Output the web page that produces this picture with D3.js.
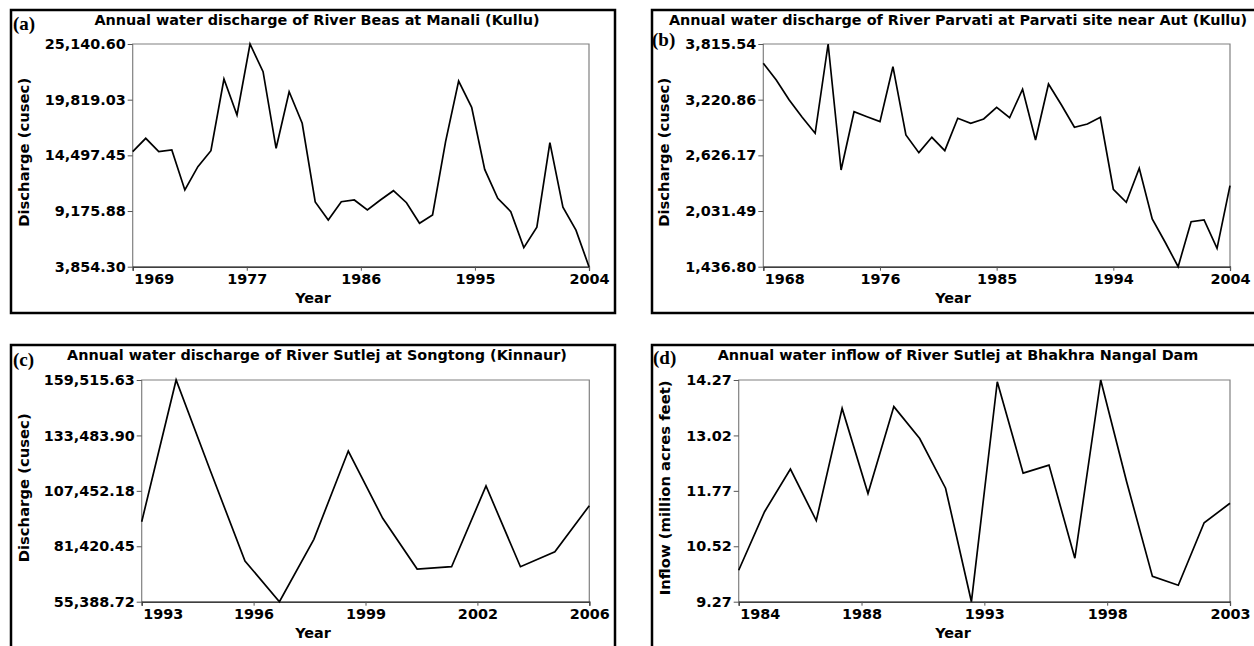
<!DOCTYPE html>
<html>
<head>
<meta charset="utf-8">
<script src="https://cdn.jsdelivr.net/npm/d3@7/dist/d3.min.js"></script>
<style>
  body { margin: 0; background: #fff; }
  svg { display: block; }
</style>
</head>
<body>
<script>
const width = 1254;
const height = 646;
const font = '"DejaVu Sans", sans-serif';

// (a) Beas at Manali
const beasYears = d3.range(1969, 2005);
const beasDischarge = [14846, 16127, 14846, 15009, 11186, 13413, 14942, 21795, 18354, 25140.60,
   22493, 15171, 20581, 17561, 10039, 8318, 10068, 10230, 9274, 10230,
   11119, 9972, 8001, 8796, 15803, 21604, 19090, 13158, 10398, 9117,
   5676, 7635, 15707, 9547, 7348, 3854.30];
const beasYTicks = [3854.30, 9175.88, 14497.45, 19819.03, 25140.60];
const beasXLabels = ['1969', '1977', '1986', '1995', '2004'];

// (b) Parvati near Aut
const parvatiYears = d3.range(1968, 2005);
const parvatiDischarge = [3609, 3431, 3217, 3033, 2862, 3815.54, 2470, 3092, 3039, 2986,
   3573, 2844, 2655, 2819, 2676, 3022, 2969, 3015, 3139, 3028,
   3332, 2790, 3388, 3164, 2926, 2961, 3033, 2264, 2125, 2488,
   1946, 1698, 1436.80, 1918, 1936, 1633, 2302];
const parvatiYTicks = [1436.80, 2031.49, 2626.17, 3220.86, 3815.54];
const parvatiXLabels = ['1968', '1976', '1985', '1994', '2004'];

// (c) Sutlej at Songtong
const songtongYears = d3.range(1993, 2007);
const songtongDischarge = [92960, 159515.63, 116630, 74498, 55388.72, 84692, 126167, 94556,
   70742, 71821, 109728, 71821, 78870, 100475];
const songtongYTicks = [55388.72, 81420.45, 107452.18, 133483.90, 159515.63];
const songtongXLabels = ['1993', '1996', '1999', '2002', '2006'];

// (d) Sutlej at Bhakhra Nangal Dam
const bhakraYears = d3.range(1984, 2004);
const bhakraInflow = [9.98, 11.30, 12.26, 11.10, 13.63, 11.71, 13.67, 12.95, 11.83, 9.27,
   14.23, 12.17, 12.35, 10.25, 14.27, 11.98, 9.84, 9.64, 11.05, 11.49];
const bhakraYTicks = [9.27, 10.52, 11.77, 13.02, 14.27];
const bhakraXLabels = ['1984', '1988', '1993', '1998', '2003'];

const panels = [
   {
      tag: '(a)', title: 'Annual water discharge of River Beas at Manali (Kullu)',
      yLabel: 'Discharge (cusec)', years: beasYears, values: beasDischarge,
      yTicks: beasYTicks, xLabels: beasXLabels, fmt: d3.format(',.2f'),
      box: { x: 11, y: 10, w: 604, h: 303 },
      plot: { left: 132.7, right: 589, top: 44, bottom: 266.7 },
      tagPos: [13, 30], titleX: 317, yLabelX: 24, yearX: 313
   },
   {
      tag: '(b)', title: 'Annual water discharge of River Parvati at Parvati site near Aut (Kullu)',
      yLabel: 'Discharge (cusec)', years: parvatiYears, values: parvatiDischarge,
      yTicks: parvatiYTicks, xLabels: parvatiXLabels, fmt: d3.format(',.2f'),
      box: { x: 652, y: 10, w: 612, h: 303 },
      plot: { left: 763.3, right: 1230, top: 44, bottom: 266.7 },
      tagPos: [652, 46], titleX: 958, yLabelX: 664, yearX: 953
   },
   {
      tag: '(c)', title: 'Annual water discharge of River Sutlej at Songtong (Kinnaur)',
      yLabel: 'Discharge (cusec)', years: songtongYears, values: songtongDischarge,
      yTicks: songtongYTicks, xLabels: songtongXLabels, fmt: d3.format(',.2f'),
      box: { x: 11, y: 345, w: 604, h: 310 },
      plot: { left: 141.7, right: 589.3, top: 380, bottom: 601.7 },
      tagPos: [13, 366], titleX: 317, yLabelX: 24, yearX: 313
   },
   {
      tag: '(d)', title: 'Annual water inflow of River Sutlej at Bhakhra Nangal Dam',
      yLabel: 'Inflow (million acres feet)', years: bhakraYears, values: bhakraInflow,
      yTicks: bhakraYTicks, xLabels: bhakraXLabels, fmt: d3.format('.2f'),
      box: { x: 652, y: 345, w: 612, h: 310 },
      plot: { left: 738.7, right: 1230, top: 380, bottom: 601.7 },
      tagPos: [653, 364], titleX: 958, yLabelX: 665, yearX: 953
   }
];

const svg = d3.select('body')
   .append('svg')
   .attr('width', width)
   .attr('height', height)
   .style('background', '#fff');

function drawPanel(p) {
   const g = svg.append('g');

   // cadre extérieur
   g.append('rect')
      .attr('x', p.box.x)
      .attr('y', p.box.y)
      .attr('width', p.box.w)
      .attr('height', p.box.h)
      .attr('fill', 'none')
      .attr('stroke', '#000')
      .attr('stroke-width', 2.5);

   const x = d3.scaleLinear()
      .domain(d3.extent(p.years))
      .range([p.plot.left, p.plot.right]);

   const y = d3.scaleLinear()
      .domain(d3.extent(p.yTicks))
      .range([p.plot.bottom, p.plot.top]);

   // cadre de la zone de tracé (gris)
   g.append('path')
      .attr('d', `M${p.plot.left},${p.plot.bottom}V${p.plot.top}H${p.plot.right}V${p.plot.bottom}`)
      .attr('fill', 'none')
      .attr('stroke', '#808080')
      .attr('stroke-width', 1.2);

   // axe vertical
   g.append('g')
      .attr('transform', `translate(${p.plot.left},0)`)
      .call(d3.axisLeft(y).tickValues(p.yTicks).tickFormat(p.fmt).tickSize(5).tickPadding(2))
      .call(g => g.select('.domain').remove())
      .call(g => g.selectAll('line').attr('stroke', '#555'))
      .call(g => g.selectAll('text')
         .attr('fill', '#000')
         .style('font', `bold 14.4px ${font}`));

   // axe horizontal : graduations aux quartiles
   const [x0, x1] = x.domain();
   const xTicks = [0, 0.25, 0.5, 0.75, 1].map(t => x0 + t * (x1 - x0));
   g.append('g')
      .attr('transform', `translate(0,${p.plot.bottom})`)
      .call(d3.axisBottom(x).tickValues(xTicks).tickFormat((d, i) => p.xLabels[i]).tickSize(4).tickPadding(3))
      .call(g => g.select('.domain')
         .attr('stroke', '#000')
         .attr('stroke-width', 1.2))
      .call(g => g.selectAll('line').attr('stroke', '#555'))
      .call(g => g.selectAll('text')
         .attr('fill', '#000')
         .style('font', `bold 14.4px ${font}`))
      .call(g => g.select('.tick text').attr('text-anchor', 'start').attr('dx', 1));

   // courbe
   const line = d3.line()
      .x((d, i) => x(p.years[i]))
      .y(d => y(d));

   g.append('path')
      .datum(p.values)
      .attr('d', line)
      .attr('fill', 'none')
      .attr('stroke', '#000')
      .attr('stroke-width', 1.7)
      .attr('stroke-linejoin', 'miter');

   // titres
   g.append('text')
      .attr('x', p.titleX)
      .attr('y', p.box.y + 14.5)
      .attr('text-anchor', 'middle')
      .style('font', `bold 14.4px ${font}`)
      .text(p.title);

   g.append('text')
      .attr('x', p.yearX)
      .attr('y', p.plot.bottom + 36)
      .attr('text-anchor', 'middle')
      .style('font', `bold 14.4px ${font}`)
      .text('Year');

   g.append('text')
      .attr('transform', `translate(${p.yLabelX + 5},${(p.plot.top + p.plot.bottom) / 2 - 3}) rotate(-90)`)
      .attr('text-anchor', 'middle')
      .style('font', `bold 14.8px ${font}`)
      .text(p.yLabel);

   g.append('text')
      .attr('x', p.tagPos[0])
      .attr('y', p.tagPos[1])
      .style('font', 'bold 19px "Liberation Serif", "Times New Roman", serif')
      .text(p.tag);
}

panels.forEach(drawPanel);
</script>
</body>
</html>
